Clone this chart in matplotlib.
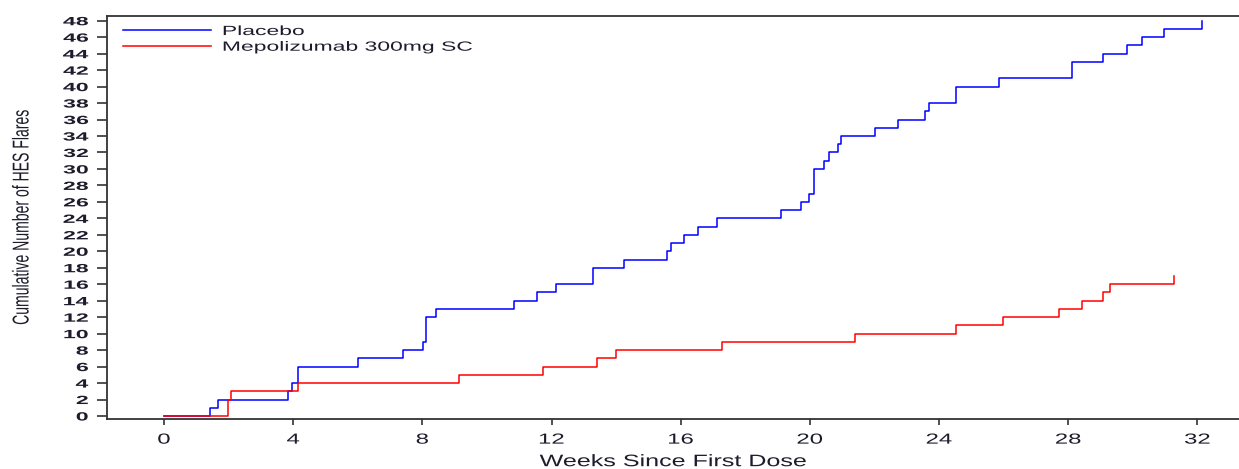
import matplotlib
matplotlib.use("Agg")
import matplotlib.pyplot as plt
from matplotlib.patheffects import AbstractPathEffect
from matplotlib.transforms import Affine2D

# ---- data ----
placebo_weeks = [1.44, 1.68, 3.85, 3.97, 4.14, 6.02, 7.41, 8.01, 8.11, 8.42,
                 10.84, 11.54, 12.15, 13.29, 14.24, 15.58, 15.70, 16.11, 16.54, 17.14,
                 19.12, 19.73, 19.96, 20.12, 20.44, 20.58, 20.88, 20.98, 22.02, 22.73,
                 23.57, 23.69, 24.52, 25.85, 28.13, 29.08, 29.82, 30.29, 30.97, 32.13]
placebo_counts = [1, 2, 3, 4, 6, 7, 8, 9, 12, 13,
                  14, 15, 16, 18, 19, 20, 21, 22, 23, 24,
                  25, 26, 27, 30, 31, 32, 33, 34, 35, 36,
                  37, 38, 40, 41, 43, 44, 45, 46, 47, 48]
mepo_weeks = [1.99, 2.09, 4.15, 9.14, 11.74, 13.41, 14.01, 17.27, 21.40, 24.53,
              25.97, 27.71, 28.44, 29.09, 29.28, 31.27]
mepo_counts = [2, 3, 4, 5, 6, 7, 8, 9, 10, 11, 12, 13, 14, 15, 16, 17]

x_ticks = list(range(0, 33, 4))
y_ticks = list(range(0, 49, 2))
series_labels = ["Placebo", "Mepolizumab 300mg SC"]
x_label = "Weeks Since First Dose"
y_label = "Cumulative Number of HES Flares"


class Stretch(AbstractPathEffect):
    """Stretch a text path along its own baseline direction."""
    def __init__(self, sx, align="center"):
        super().__init__()
        self.sx = sx
        self.align = align

    def draw_path(self, renderer, gc, tpath, affine, rgbFace=None):
        ext = tpath.get_extents()
        if self.align == "left":
            cx = ext.x0
        elif self.align == "right":
            cx = ext.x1
        else:
            cx = 0.5 * (ext.x0 + ext.x1)
        t = Affine2D().translate(-cx, 0).scale(self.sx, 1).translate(cx, 0)
        renderer.draw_path(gc, tpath, t + affine, rgbFace)


plt.rcParams["font.family"] = ["Liberation Sans", "DejaVu Sans"]
txt_color = "#1c1c2c"

W, H = 1239, 469
fig = plt.figure(figsize=(W / 100, H / 100), dpi=100)
ax = fig.add_axes([107 / W, 1 - 419.3 / H, 1 - 107 / W, (419.3 - 15.7) / H])

ax.step([0] + placebo_weeks, [0] + placebo_counts, where="post",
        color="#0000ff", lw=1.1, label=series_labels[0])
ax.step([0] + mepo_weeks, [0] + mepo_counts, where="post",
        color="#ff0000", lw=1.1, label=series_labels[1])

ax.set_xlim(-1.765, 33.29)
ax.set_ylim(-0.4, 48.61)
ax.set_xticks(x_ticks)
ax.set_yticks(y_ticks)

for s in ["top", "left", "bottom"]:
    ax.spines[s].set_linewidth(1.3)
    ax.spines[s].set_color("#333333")
ax.spines["right"].set_visible(False)

ax.tick_params(axis="both", direction="out", width=1.2, color="#333333",
               labelcolor=txt_color)
ax.tick_params(axis="y", length=7.5, labelsize=8.6, pad=6)
ax.tick_params(axis="x", length=4.6, labelsize=10.5, pad=5)
for lbl in ax.get_yticklabels():
    lbl.set_fontweight("bold")

ax.set_xlabel(x_label, fontsize=12, color=txt_color)
ax.xaxis.set_label_coords(0.5, -0.105)
ax.xaxis.label.set_va("center")
ax.set_ylabel(y_label, fontsize=16.5, color=txt_color)
ax.yaxis.set_label_coords((22 - 107) / (W - 107), 0.5)
ax.yaxis.label.set_va("center")

leg = ax.legend(loc="upper left", bbox_to_anchor=(0.005, 1.0), frameon=False,
                handlelength=6.6, handletextpad=0.9, fontsize=9.6,
                labelspacing=0.25, borderaxespad=0.35)
for t in leg.get_texts():
    t.set_color(txt_color)

# ---- horizontal stretch of text to mimic the reference's wide rendering ----
fig.canvas.draw()
r = fig.canvas.get_renderer()


def width_of(t):
    bb = t.get_window_extent(r)
    return max(bb.width, bb.height)


yt = ax.get_yticklabels()
sx_y = 25.6 / width_of(yt[-1])
for t in yt:
    t.set_path_effects([Stretch(sx_y, "right")])

xt = ax.get_xticklabels()
sx_x = 26.7 / width_of(xt[-1])
for t in xt:
    t.set_path_effects([Stretch(sx_x, "center")])

ax.xaxis.label.set_path_effects([Stretch(267 / width_of(ax.xaxis.label), "center")])
ax.yaxis.label.set_path_effects([Stretch(215 / width_of(ax.yaxis.label), "center")])

lt = leg.get_texts()
sx_l = 251 / width_of(lt[1])
for t in lt:
    t.set_path_effects([Stretch(sx_l, "left")])

fig.savefig("out.png", dpi=100)
